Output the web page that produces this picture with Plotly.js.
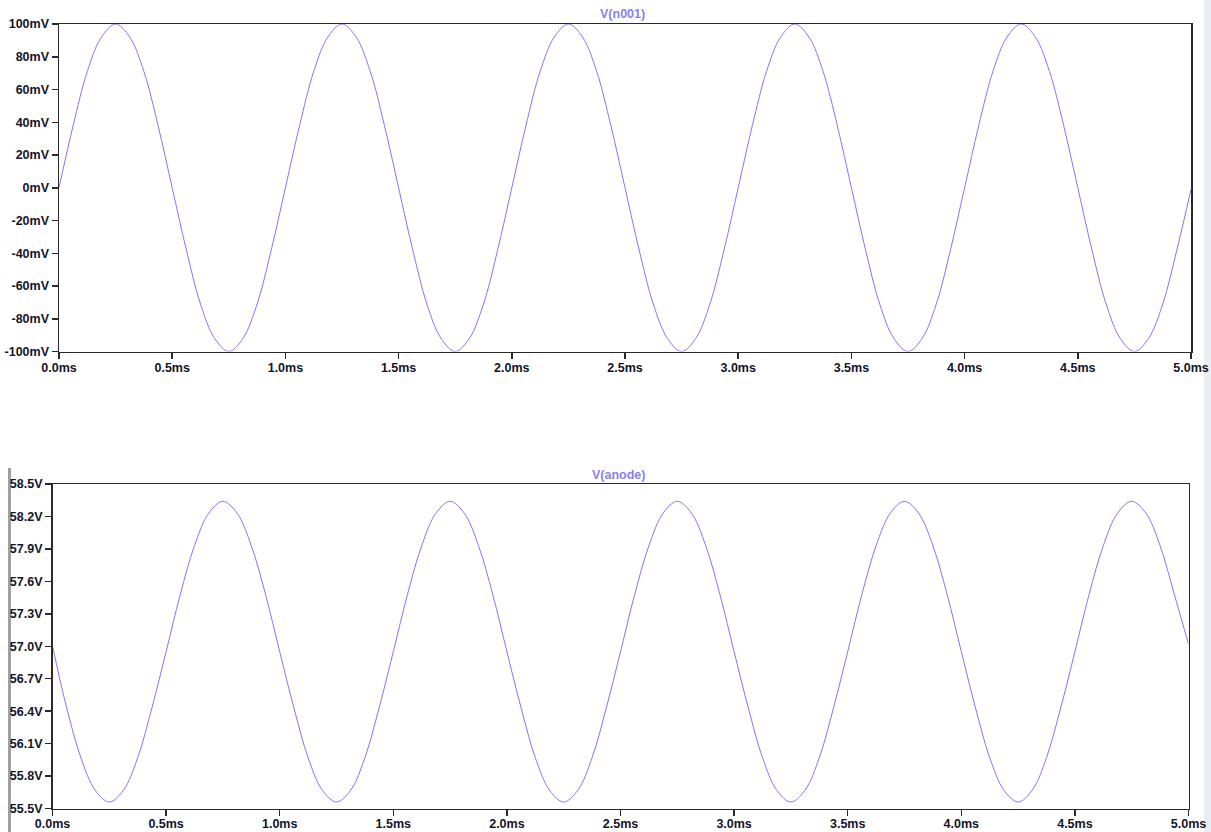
<!DOCTYPE html>
<html>
<head>
<meta charset="utf-8">
<script src="https://cdn.plot.ly/plotly-3.0.1.min.js"></script>
<style>html,body{margin:0;padding:0;background:#fff;}#chart{width:1211px;height:832px;}</style>
</head>
<body>
<div id="chart"></div>
<script>
// time in ms, sampled every 0.0625 ms
const timeMs = [
 0.0000,0.0625,0.1250,0.1875,0.2500,0.3125,0.3750,0.4375,0.5000,0.5625,0.6250,0.6875,0.7500,0.8125,0.8750,0.9375,
 1.0000,1.0625,1.1250,1.1875,1.2500,1.3125,1.3750,1.4375,1.5000,1.5625,1.6250,1.6875,1.7500,1.8125,1.8750,1.9375,
 2.0000,2.0625,2.1250,2.1875,2.2500,2.3125,2.3750,2.4375,2.5000,2.5625,2.6250,2.6875,2.7500,2.8125,2.8750,2.9375,
 3.0000,3.0625,3.1250,3.1875,3.2500,3.3125,3.3750,3.4375,3.5000,3.5625,3.6250,3.6875,3.7500,3.8125,3.8750,3.9375,
 4.0000,4.0625,4.1250,4.1875,4.2500,4.3125,4.3750,4.4375,4.5000,4.5625,4.6250,4.6875,4.7500,4.8125,4.8750,4.9375,
 5.0000
];
// V(n001) in mV
const vN001 = [
 0,38,71,92,100,92,71,38,0,-38,-71,-92,-100,-92,-71,-38,
 0,38,71,92,100,92,71,38,0,-38,-71,-92,-100,-92,-71,-38,
 0,38,71,92,100,92,71,38,0,-38,-71,-92,-100,-92,-71,-38,
 0,38,71,92,100,92,71,38,0,-38,-71,-92,-100,-92,-71,-38,
 0,38,71,92,100,92,71,38,0,-38,-71,-92,-100,-92,-71,-38,
 -1
];
// V(anode) in V
const vAnode = [
 57.00,56.43,55.97,55.67,55.56,55.67,55.97,56.43,56.95,57.48,57.93,58.23,58.34,58.23,57.93,57.48,
 56.95,56.43,55.97,55.67,55.56,55.67,55.97,56.43,56.95,57.48,57.93,58.23,58.34,58.23,57.93,57.48,
 56.95,56.43,55.97,55.67,55.56,55.67,55.97,56.43,56.95,57.48,57.93,58.23,58.34,58.23,57.93,57.48,
 56.95,56.43,55.97,55.67,55.56,55.67,55.97,56.43,56.95,57.48,57.93,58.23,58.34,58.23,57.93,57.48,
 56.95,56.43,55.97,55.67,55.56,55.67,55.97,56.43,56.95,57.48,57.93,58.23,58.34,58.23,57.93,57.48,
 57.02
];
const titleTop = "V(n001)";
const titleBottom = "V(anode)";
const xTicks = [0,0.5,1,1.5,2,2.5,3,3.5,4,4.5,5];
const yTopTicks = [-100,-80,-60,-40,-20,0,20,40,60,80,100];
const yBotTicks = [55.5,55.8,56.1,56.4,56.7,57.0,57.3,57.6,57.9,58.2,58.5];

const W = 1211, H = 832;
const traceColor = "rgb(128,118,255)";
const tickFont = {family: "Liberation Sans, Arial, sans-serif", size: 12.5, color: "#14142b", weight: "bold"};
const axisCommon = {
  showgrid: false, zeroline: false, showline: true, linecolor: "#2a2a2a", linewidth: 1.5,
  mirror: true, ticks: "outside", ticklen: 6, tickwidth: 1.5, tickcolor: "#2a2a2a",
  tickfont: tickFont, fixedrange: true
};

const data = [
  {x: timeMs, y: vN001, xaxis: "x", yaxis: "y", type: "scatter", mode: "lines",
   line: {color: traceColor, width: 1, shape: "spline", smoothing: 1.0}, hoverinfo: "skip"},
  {x: timeMs, y: vAnode, xaxis: "x2", yaxis: "y2", type: "scatter", mode: "lines",
   line: {color: traceColor, width: 1, shape: "spline", smoothing: 1.0}, hoverinfo: "skip"}
];

const layout = {
  width: W, height: H, margin: {l: 0, r: 0, t: 0, b: 0},
  paper_bgcolor: "#ffffff", plot_bgcolor: "#ffffff", showlegend: false,
  xaxis: Object.assign({}, axisCommon, {domain: [59/W, 1191/W], range: [0, 5], tickvals: xTicks,
    ticktext: xTicks.map(v => v.toFixed(1) + "ms"), anchor: "y", ticklabelstandoff: -2}),
  yaxis: Object.assign({}, axisCommon, {domain: [1 - 351.5/H, 1 - 24/H], range: [-100, 100], tickvals: yTopTicks,
    ticktext: yTopTicks.map(v => v + "mV"), anchor: "x"}),
  xaxis2: Object.assign({}, axisCommon, {domain: [52.5/W, 1188.5/W], range: [0, 5], tickvals: xTicks,
    ticktext: xTicks.map(v => v.toFixed(1) + "ms"), anchor: "y2", ticklabelstandoff: -3}),
  yaxis2: Object.assign({}, axisCommon, {domain: [1 - 808.5/H, 1 - 484/H], range: [55.5, 58.5], tickvals: yBotTicks,
    ticktext: yBotTicks.map(v => v.toFixed(1) + "V"), anchor: "x2"}),
  annotations: [
    {text: titleTop, xref: "paper", yref: "paper", x: 622/W, y: 1 - 14/H, showarrow: false,
     xanchor: "center", yanchor: "middle", font: {family: "Liberation Sans, Arial, sans-serif", size: 12.5, color: "#8a80f0", weight: "bold"}},
    {text: titleBottom, xref: "paper", yref: "paper", x: 618/W, y: 1 - 475/H, showarrow: false,
     xanchor: "center", yanchor: "middle", font: {family: "Liberation Sans, Arial, sans-serif", size: 12.5, color: "#8a80f0", weight: "bold"}}
  ],
  shapes: [
    {type: "rect", xref: "paper", yref: "paper", x0: 1204/W, x1: 1, y0: 0, y1: 1, fillcolor: "#e9eef4", line: {width: 0}, layer: "below"},
    {type: "rect", xref: "paper", yref: "paper", x0: 8/W, x1: 11/W, y0: 0, y1: 1 - 468/H, fillcolor: "#a0a0a0", line: {width: 0}, layer: "below"}
  ]
};

Plotly.newPlot("chart", data, layout, {displayModeBar: false, staticPlot: true});
</script>
</body>
</html>
